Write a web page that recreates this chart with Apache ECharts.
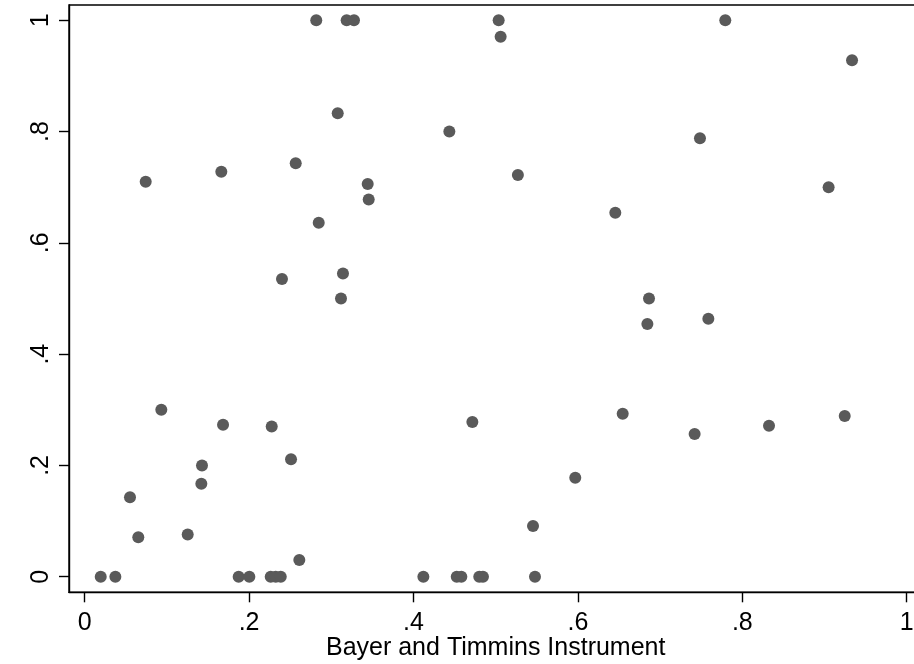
<!DOCTYPE html>
<html>
<head>
<meta charset="utf-8">
<script src="https://cdn.jsdelivr.net/npm/echarts@6/dist/echarts.min.js"></script>
<style>
html,body{margin:0;padding:0;background:#fff;}
#chart{width:914px;height:664px;}
</style>
</head>
<body>
<div id="chart"></div>
<script>
const xTitle = 'Bayer and Timmins Instrument';
const tickValues = [0, 0.2, 0.4, 0.6, 0.8, 1];
const xValues = [0.0195,0.0373,0.0551,0.0652,0.0742,0.0932,0.1253,0.1419,0.1427,0.1662,
  0.1683,0.1873,0.2003,0.2263,0.2324,0.2385,0.2275,0.240,0.251,0.2567,
  0.2611,0.2817,0.2847,0.3078,0.3118,0.3142,0.3187,0.3276,0.3443,0.3455,
  0.412,0.4436,0.4526,0.4582,0.4716,0.480,0.4845,0.5036,0.506,0.527,
  0.5454,0.5478,0.5968,0.6455,0.6545,0.6845,0.6865,0.742,0.7485,0.7587,
  0.7793,0.8325,0.905,0.9246,0.9335];
const yValues = [0,0,0.143,0.071,0.710,0.300,0.076,0.167,0.200,0.728,
  0.273,0,0,0,0,0,0.270,0.535,0.211,0.743,
  0.030,1,0.636,0.833,0.500,0.545,1,1,0.706,0.678,
  0,0.800,0,0,0.278,0,0,1,0.9705,0.722,
  0.091,0,0.178,0.654,0.293,0.454,0.500,0.2565,0.788,0.4637,
  1,0.2714,0.700,0.289,0.928];

const points = xValues.map((x, i) => [x, yValues[i]]);
const fmt = v => {
  if (Math.abs(v) < 1e-9) return '0';
  if (Math.abs(v - 1) < 1e-9) return '1';
  return String(+v.toFixed(1)).replace(/^0/, '');
};
const font = '"Liberation Sans", Arial, Helvetica, sans-serif';

const chart = echarts.init(document.getElementById('chart'), null, {renderer: 'canvas'});
chart.setOption({
  animation: false,
  backgroundColor: '#ffffff',
  grid: {
    left: 69, top: 5, right: -8.4, bottom: 71.7,
    containLabel: false,
    outerBoundsMode: 'none',
    show: true, borderColor: '#000', borderWidth: 1.4, backgroundColor: 'transparent'
  },
  xAxis: {
    type: 'value', min: -0.0191, max: 1.0191,
    name: xTitle, nameLocation: 'middle', nameGap: 43, nameMoveOverlap: false,
    nameTextStyle: {fontFamily: font, fontSize: 25, color: '#000'},
    axisLine: {show: true, onZero: false, lineStyle: {color: '#000', width: 1.4}},
    axisTick: {show: true, length: 10, lineStyle: {color: '#000', width: 1.4}, customValues: tickValues},
    axisLabel: {fontFamily: font, fontSize: 25, color: '#000', margin: 18, formatter: fmt, customValues: tickValues},
    splitLine: {show: false}
  },
  yAxis: {
    type: 'value', min: -0.028, max: 1.0275,
    axisLine: {show: true, onZero: false, lineStyle: {color: '#000', width: 1.4}},
    axisTick: {show: true, length: 10, lineStyle: {color: '#000', width: 1.4}, customValues: tickValues},
    axisLabel: {fontFamily: font, fontSize: 25, color: '#000', margin: 15, rotate: 90, formatter: fmt, customValues: tickValues},
    splitLine: {show: false}
  },
  series: [{
    type: 'scatter',
    data: points,
    symbol: 'circle',
    symbolSize: 12,
    itemStyle: {color: '#5a5a5a', opacity: 1}
  }]
});
</script>
</body>
</html>
